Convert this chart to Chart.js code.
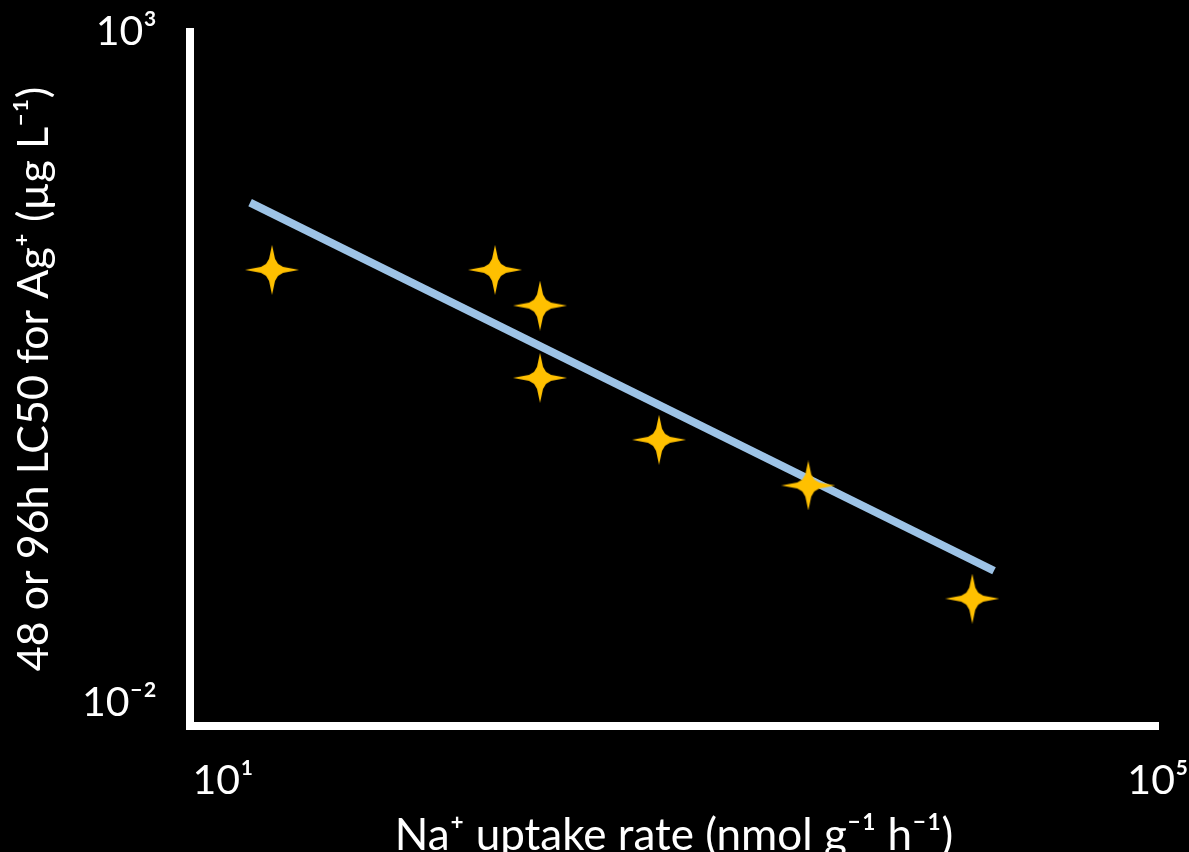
<!DOCTYPE html>
<html>
<head>
<meta charset="utf-8">
<script src="https://cdn.jsdelivr.net/npm/chart.js@4.4.1/dist/chart.umd.min.js"></script>
<style>
  html, body { margin: 0; padding: 0; background: #000; overflow: hidden; }
  #wrap { width: 1189px; height: 852px; }
</style>
</head>
<body>
<div id="wrap"><canvas id="lc50Chart"></canvas></div>
<script>
// Na+ uptake rate (nmol g-1 h-1), one per species
const naUptake = [16.2, 145.7, 227, 227, 733, 3190, 16050];
// 48 or 96h LC50 for Ag+ (ug L-1)
const lc50 = [16.85, 16.85, 9.13, 2.64, 0.912, 0.416, 0.0596];
// regression line end points
const fitX = [13.05, 19880];
const fitY = [53.5, 0.0963];
// ticks shown on the axes
const xTicks = [10, 100000];
const xTickLabels = ['10¹', '10⁵'];
const yTicks = [0.01, 1000];
const yTickLabels = ['10⁻²', '10³'];

const FONT = "Lato, 'Noto Sans', sans-serif";

// 4-pointed star used as the point marker
function makeStar(w, h, color) {
    const c = document.createElement('canvas');
    c.width = w;
    c.height = h;
    const ctx = c.getContext('2d');
    const cx = w / 2, cy = h / 2;
    const pts = [
        [0, -cy], [3, -11], [6, -6], [11, -3],
        [cx, 0], [11, 3], [6, 6], [3, 11],
        [0, cy], [-3, 11], [-6, 6], [-11, 3],
        [-cx, 0], [-11, -3], [-6, -6], [-3, -11]
    ];
    ctx.fillStyle = color;
    ctx.beginPath();
    pts.forEach((p, i) => {
        if (i === 0) ctx.moveTo(cx + p[0], cy + p[1]);
        else ctx.lineTo(cx + p[0], cy + p[1]);
    });
    ctx.closePath();
    ctx.fill();
    return c;
}

const star = makeStar(54, 50, '#FFC000');

const ctx = document.getElementById('lc50Chart').getContext('2d');
new Chart(ctx, {
    type: 'scatter',
    data: {
        datasets: [
            {
                label: 'Species',
                data: naUptake.map((x, i) => ({ x: x, y: lc50[i] })),
                pointStyle: star,
                pointRadius: 27,
                pointHoverRadius: 27
            },
            {
                label: 'Fit',
                type: 'line',
                data: fitX.map((x, i) => ({ x: x, y: fitY[i] })),
                borderColor: '#9DC3E6',
                borderWidth: 8,
                borderCapStyle: 'butt',
                pointRadius: 0,
                fill: false
            }
        ]
    },
    options: {
        responsive: true,
        maintainAspectRatio: false,
        animation: false,
        layout: { padding: { top: 32, right: 31, left: 0, bottom: 0 } },
        plugins: {
            legend: { display: false },
            tooltip: { enabled: false }
        },
        scales: {
            x: {
                type: 'logarithmic',
                min: 7.22,
                max: 100000,
                afterBuildTicks: s => { s.ticks = xTicks.map(v => ({ value: v })); },
                afterFit: s => {
                    // fixed axis height, labels may overhang the plot edges
                    s.height = 126;
                    s.paddingLeft = 0;
                    s.paddingRight = 0;
                },
                ticks: {
                    color: '#fff',
                    font: { family: FONT, size: 41 },
                    padding: 30,
                    autoSkip: false,
                    maxRotation: 0,
                    callback: (v, i) => xTickLabels[i]
                },
                grid: { display: false, drawTicks: false },
                border: { color: '#fff', width: 8 },
                title: {
                    display: true,
                    text: 'Na⁺ uptake rate (nmol g⁻¹ h⁻¹)',
                    color: '#fff',
                    font: { family: FONT, size: 44 },
                    padding: { top: 0, bottom: -10 }
                }
            },
            y: {
                type: 'logarithmic',
                min: 0.0067,
                max: 1000,
                afterBuildTicks: s => { s.ticks = yTicks.map(v => ({ value: v })); },
                afterFit: s => {
                    s.width = 190;
                    s.paddingTop = 0;
                    s.paddingBottom = 0;
                },
                ticks: {
                    color: '#fff',
                    font: { family: FONT, size: 41 },
                    padding: 33,
                    autoSkip: false,
                    callback: (v, i) => yTickLabels[i]
                },
                grid: { display: false, drawTicks: false },
                border: { color: '#fff', width: 8 },
                title: {
                    display: true,
                    text: '48 or 96h LC50 for Ag⁺ (µg L⁻¹)',
                    color: '#fff',
                    font: { family: FONT, size: 43 },
                    padding: { top: 8, bottom: 0 }
                }
            }
        }
    }
});
</script>
</body>
</html>
